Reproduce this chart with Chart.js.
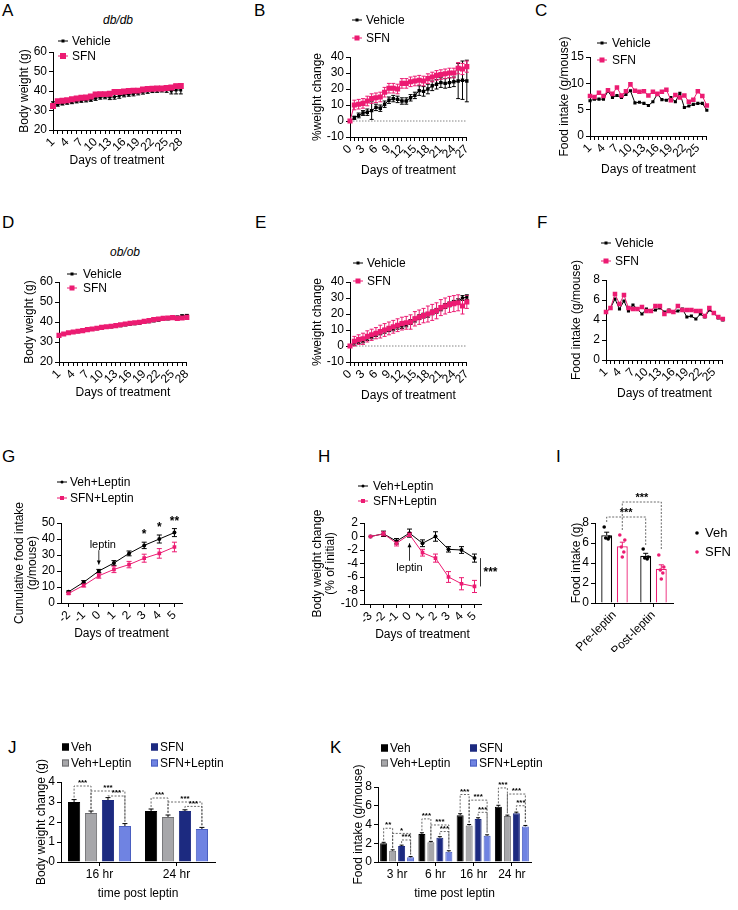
<!DOCTYPE html>
<html>
<head>
<meta charset="utf-8">
<script src="https://cdn.jsdelivr.net/npm/chart.js@4.4.1/dist/chart.umd.min.js"></script>
<style>
  body { margin: 0; background: #fff; }
  #fig { position: relative; width: 738px; height: 910px; overflow: hidden; font-family: "Liberation Sans", Arial, sans-serif; color: #000; }
  #fig canvas { position: absolute; }
  .let { position: absolute; font-size: 17px; line-height: 1; }
  .ttl { position: absolute; font-size: 12px; font-style: italic; line-height: 1; transform: translateX(-50%); }
</style>
</head>
<body>
<div id="fig">
  <div class="let" style="left:2px;top:2px">A</div>
  <div class="let" style="left:254px;top:2px">B</div>
  <div class="let" style="left:535px;top:2px">C</div>
  <div class="let" style="left:2px;top:214px">D</div>
  <div class="let" style="left:255px;top:214px">E</div>
  <div class="let" style="left:537px;top:214px">F</div>
  <div class="let" style="left:2px;top:448px">G</div>
  <div class="let" style="left:318px;top:448px">H</div>
  <div class="let" style="left:556px;top:448px">I</div>
  <div class="let" style="left:8px;top:739px">J</div>
  <div class="let" style="left:330px;top:739px">K</div>
  <div class="ttl" style="left:118px;top:14px">db/db</div>
  <div class="ttl" style="left:125px;top:246px">ob/ob</div>
</div>
<script>
// ---- data ----
// A: db/db body weight
const aDays = ['1','2','3','4','5','6','7','8','9','10','11','12','13','14','15','16','17','18','19','20','21','22','23','24','25','26','27','28'];
const aVeh = [33.5,33.0,33.6,34.0,34.3,34.7,35.0,35.3,35.6,36.2,36.8,37.0,36.8,37.0,37.5,38.0,38.3,38.5,39.0,39.4,39.8,40.2,40.3,40.5,40.5,40.0,40.5,40.5];
const aVehErr = [1.0,0.8,0.8,0.8,0.8,0.8,0.8,0.9,0.9,1.0,1.0,1.0,1.2,1.2,1.2,1.0,1.0,1.0,1.0,1.0,1.0,1.0,1.0,1.0,1.2,1.5,2.0,2.0];
const aSfn = [32.3,34.8,35.0,35.3,35.8,36.2,36.5,36.7,37.2,38.2,38.4,38.4,38.6,39.5,39.5,39.7,40.0,40.2,40.2,40.8,41.0,41.2,41.3,41.3,41.5,41.8,42.5,42.6];
const aSfnErr = [0.8,0.8,0.8,0.8,0.8,0.8,0.8,0.8,0.8,0.8,0.8,0.8,0.8,0.8,0.8,0.8,0.8,0.8,0.8,0.8,0.8,0.8,0.8,0.8,0.8,0.8,1.0,1.0];

// B: db/db % weight change
const bDays = ['0','1','2','3','4','5','6','7','8','9','10','11','12','13','14','15','16','17','18','19','20','21','22','23','24','25','26','27'];
const bVeh = [0,2,3.5,5,5.5,6.5,8.5,8,10.5,13,14,13.5,12.5,12.5,14.5,16,19,18.5,20,22,23,24,23.5,24,24.5,25,25.5,25];
const bVehErr = [0,1,1.5,1.5,2,5.5,2,2,2,2,2,2,2,2,2,2,3,3,3,3,3,3,3,3,3,11,12,13];
const bSfn = [0,10,10.5,11,12.5,14,14.5,15,18,20.5,20.5,20,23.5,23.5,24.5,25,25.5,25,26.5,27.5,28.5,29,29.5,30,30,33,32.5,34];
const bSfnErr = [0,3,3,3,3,3,3,3,3,3,3,3,3,3,3,3,3,3,3,3,3,3,3,3,3,3.5,3.5,3.5];

// C: db/db food intake
const cDays = ['1','2','3','4','5','6','7','8','9','10','11','12','13','14','15','16','17','18','19','20','21','22','23','24','25','26','27'];
const cVeh = [6.7,7.0,7.0,7.0,8.5,7.3,7.7,7.3,7.9,8.6,6.3,6.4,6.2,5.8,6.5,8.0,6.9,6.8,7.3,6.5,8.1,5.4,5.7,6.0,6.2,6.2,4.9];
const cSfn = [7.6,7.4,8.2,7.6,8.7,8.0,9.2,7.7,8.5,9.8,8.6,8.4,8.5,7.7,8.4,8.0,8.4,8.8,6.8,7.8,7.3,7.7,6.5,6.9,8.5,7.6,5.8];

// D: ob/ob body weight
const dDays = ['1','2','3','4','5','6','7','8','9','10','11','12','13','14','15','16','17','18','19','20','21','22','23','24','25','26','27','28'];
const dVeh = [33.3,34.0,34.5,34.8,35.2,35.5,36.0,36.3,36.7,37.0,37.3,37.6,37.8,38.2,38.6,39.0,39.2,39.5,39.8,40.2,40.6,41.0,41.3,41.6,41.8,42.4,43.0,43.2];
const dVehErr = [0.5,0.5,0.5,0.5,0.5,0.5,0.5,0.5,0.5,0.5,0.5,0.5,0.5,0.5,0.5,0.5,0.5,0.5,0.5,0.5,0.5,0.5,0.5,0.5,0.5,0.6,0.6,0.6];
const dSfn = [33.3,34.0,34.6,35.0,35.4,35.7,36.2,36.5,36.9,37.3,37.6,37.9,38.2,38.6,39.0,39.4,39.6,39.9,40.3,40.7,41.2,41.5,41.8,42.0,42.2,41.8,42.0,42.3];
const dSfnErr = [0.6,0.6,0.6,0.6,0.6,0.6,0.6,0.6,0.6,0.6,0.6,0.6,0.6,0.6,0.6,0.6,0.6,0.6,0.6,0.6,0.6,0.6,0.6,0.6,0.6,0.6,0.6,0.6];

// E: ob/ob % weight change
const eDays = ['0','1','2','3','4','5','6','7','8','9','10','11','12','13','14','15','16','17','18','19','20','21','22','23','24','25','26','27'];
const eVeh = [0,2,3,3.5,5,6,7.5,8.5,9.5,10.5,11,12,12.5,13.5,15,16.5,18,19,19.5,21,22,23.5,25,26,27,28,30,30.5];
const eVehErr = [0,1.5,1.5,1.5,1.5,1.5,1.5,1.5,1.5,1.5,1.5,1.5,1.5,1.5,1.5,1.5,1.5,1.5,1.5,1.5,1.5,1.5,1.5,1.5,1.5,1.5,1.5,1.5];
const eSfn = [0,3,4,4.5,6,7,8,9,10,11,12,13,14,14.5,15,17,18,19,20,21,22,24,25,26,26.5,27,25,27.5];
const eSfnErr = [0,3,3,3.5,3.5,3.5,3.5,4,4,4,4,4,4,4,4.5,4.5,4.5,4.5,5,5,5,5,5,5,5,5,5,4];

// F: ob/ob food intake
const fDays = ['1','2','3','4','5','6','7','8','9','10','11','12','13','14','15','16','17','18','19','20','21','22','23','24','25','26','27'];
const fVeh = [4.8,5.2,6.1,5.1,5.9,4.9,5.5,5.1,4.6,5.1,4.9,5.0,5.2,4.8,5.0,4.8,4.9,5.1,4.3,4.4,4.1,4.6,4.3,5.0,4.7,4.2,4.0];
const fSfn = [4.8,5.2,6.6,5.6,6.5,5.2,5.1,5.1,5.3,4.9,4.9,5.4,5.4,4.6,4.9,4.8,5.4,5.0,5.0,5.0,4.9,4.9,4.4,5.2,4.7,4.3,4.1];

// G: cumulative food intake with leptin
const gDays = ['-2','-1','0','1','2','3','4','5'];
const gVeh = [7,13,20,25,31,36,40,44];
const gVehErr = [0.5,1,1,1.5,1.5,2,2.5,2.5];
const gSfn = [6,11,17,21,24,28,31,35];
const gSfnErr = [0.5,1,1.5,2,2,2.5,3,3];
const gStars = ['', '', '', '', '', '*', '*', '**'];

// H: body weight change with leptin
const hDays = ['-3','-2','-1','0','1','2','3','4','5'];
const hVeh = [0,0.4,-0.7,0.5,-1.0,0,-1.9,-2.0,-3.2];
const hVehErr = [0,0.4,0.4,0.6,0.5,0.7,0.4,0.5,0.6];
const hSfn = [0,0.4,-1.0,0.3,-2.4,-3.2,-6.0,-7.0,-7.4];
const hSfnErr = [0,0.3,0.4,0.3,0.5,0.6,0.8,0.9,0.9];

// I: food intake pre / post leptin
const iCats = ['Pre-leptin', 'Post-leptin'];
const iVeh = [6.78, 4.72];
const iVehErr = [0.3, 0.25];
const iSfn = [5.68, 3.42];
const iSfnErr = [0.4, 0.4];
const iVehDots = [[7.6, 6.6, 6.5, 6.4], [5.4, 4.6, 4.5, 4.4]];
const iSfnDots = [[6.8, 6.3, 5.6, 5.1, 4.6], [4.8, 3.6, 3.3, 3.0, 2.4]];

// J: body weight change post leptin
const jCats = ['16 hr', '24 hr'];
const jVeh = [3.0, 2.55];
const jVehErr = [0.12, 0.1];
const jVehLep = [2.45, 2.25];
const jVehLepErr = [0.1, 0.1];
const jSfn = [3.1, 2.55];
const jSfnErr = [0.12, 0.06];
const jSfnLep = [1.8, 1.65];
const jSfnLepErr = [0.12, 0.08];

// K: food intake post leptin
const kCats = ['3 hr', '6 hr', '16 hr', '24 hr'];
const kVeh = [2.0, 3.0, 5.0, 5.9];
const kVehErr = [0.1, 0.12, 0.15, 0.15];
const kVehLep = [1.2, 2.1, 3.9, 4.9];
const kVehLepErr = [0.1, 0.1, 0.1, 0.1];
const kSfn = [1.7, 2.6, 4.6, 5.2];
const kSfnErr = [0.1, 0.1, 0.12, 0.12];
const kSfnLep = [0.5, 1.1, 2.8, 3.8];
const kSfnLepErr = [0.08, 0.1, 0.1, 0.1];

// ---- styling ----
const PINK = '#ec1b72', BLACK = '#000000', GRAY = '#a7a7aa', NAVY = '#1c2a80', LBLUE = '#6f83e2';
const FONT = '"Liberation Sans", Arial, sans-serif';

Chart.defaults.font.family = FONT;
Chart.defaults.font.size = 12;
Chart.defaults.color = '#000';
Chart.defaults.animation = false;
Chart.defaults.plugins.legend.display = false;
Chart.defaults.plugins.tooltip.enabled = false;

const AXLINE = { display: true, drawOnChartArea: false, drawTicks: true, tickLength: 4, color: '#000', lineWidth: 1 };

function xCat({ title, every = 0, rot = 0, offset = false }) {
  return {
    type: 'category', offset,
    grid: { ...AXLINE, offset: false },
    border: { color: '#000', width: 1 },
    ticks: {
      autoSkip: false, minRotation: rot, maxRotation: rot, padding: 1,
      callback: function (v, i) { return (every && i % every) ? '' : this.getLabelForValue(v); }
    },
    title: { display: !!title, text: title, padding: 0 }
  };
}

function yLin(min, max, step, title) {
  return {
    type: 'linear', min, max,
    grid: AXLINE,
    border: { color: '#000', width: 1 },
    ticks: { stepSize: step, padding: 2, autoSkip: false },
    title: { display: true, text: title, padding: 0, font: { lineHeight: Array.isArray(title) ? 1.1 : 1.2 } }
  };
}

function lineDs(label, data, err, color, r, order, style) {
  return {
    label, data, err, order,
    borderColor: color, backgroundColor: color, borderWidth: 1, tension: 0,
    pointStyle: style || 'rect', pointRadius: r, pointHoverRadius: r, pointBorderWidth: 0
  };
}

function barDs(label, data, err, color, edge) {
  return { label, data, err, backgroundColor: color, borderColor: edge, borderWidth: 1, borderSkipped: 'start' };
}

// error bars from the value scale
function drawErr(chart, cap, upOnly) {
  const ctx = chart.ctx, ys = chart.scales.y;
  chart.data.datasets.forEach((ds, di) => {
    if (!ds.err) return;
    const meta = chart.getDatasetMeta(di);
    ctx.save();
    ctx.strokeStyle = ds.errColor || ds.borderColor;
    ctx.lineWidth = 1;
    ctx.beginPath();
    meta.data.forEach((el, i) => {
      const e = ds.err[i];
      if (!e) return;
      const v = ds.data[i];
      const yt = ys.getPixelForValue(v + e);
      const yb = ys.getPixelForValue(upOnly ? v : v - e);
      ctx.moveTo(el.x, yt); ctx.lineTo(el.x, yb);
      ctx.moveTo(el.x - cap, yt); ctx.lineTo(el.x + cap, yt);
      if (!upOnly) { ctx.moveTo(el.x - cap, yb); ctx.lineTo(el.x + cap, yb); }
    });
    ctx.stroke();
    ctx.restore();
  });
}

// legend entries at page coordinates
function drawLegend(chart, at, items) {
  const ctx = chart.ctx;
  items.forEach(it => {
    const ds = chart.data.datasets[it.ds];
    const [x, y] = at(it.x, it.y);
    const [tx] = at(it.tx, it.y);
    ctx.save();
    if (it.kind === 'line') {
      ctx.strokeStyle = ds.borderColor; ctx.fillStyle = ds.borderColor; ctx.lineWidth = 1;
      ctx.beginPath(); ctx.moveTo(x, y); ctx.lineTo(x + 10, y); ctx.stroke();
      const s = it.size;
      if (it.round) { ctx.beginPath(); ctx.arc(x + 5, y, s / 2, 0, Math.PI * 2); ctx.fill(); }
      else ctx.fillRect(x + 5 - s / 2, y - s / 2, s, s);
    } else if (it.kind === 'dot') {
      ctx.fillStyle = ds.borderColor;
      ctx.beginPath(); ctx.arc(x, y, 1.8, 0, Math.PI * 2); ctx.fill();
    } else {
      ctx.fillStyle = ds.backgroundColor; ctx.fillRect(x, y - 3.5, 7, 7);
      ctx.strokeStyle = ds.borderColor; ctx.lineWidth = 1; ctx.strokeRect(x + 0.5, y - 3, 6, 6);
    }
    ctx.fillStyle = '#000';
    ctx.font = (it.fs || 12) + 'px ' + FONT;
    ctx.textAlign = 'left'; ctx.textBaseline = 'middle';
    ctx.fillText(it.text, tx, y + 0.5);
    ctx.restore();
  });
}

function stars(ctx, text, x, y, fs) {
  ctx.save();
  ctx.fillStyle = '#000';
  ctx.font = 'bold ' + fs + 'px ' + FONT;
  ctx.textAlign = 'center'; ctx.textBaseline = 'alphabetic';
  ctx.fillText(text, x, y + fs * 0.35);
  ctx.restore();
}

// dashed significance bracket between two bars; legs end at given values
function bracket(chart, a, b, h, label, fs, endA, endB) {
  const ctx = chart.ctx, ys = chart.scales.y;
  const ea = chart.getDatasetMeta(a[0]).data[a[1]], eb = chart.getDatasetMeta(b[0]).data[b[1]];
  const top = (p) => { const d = chart.data.datasets[p[0]]; return d.data[p[1]] + (d.err ? d.err[p[1]] : 0); };
  const ya = ys.getPixelForValue(endA !== undefined ? endA : top(a)) - 2;
  const yb = ys.getPixelForValue(endB !== undefined ? endB : top(b)) - 2;
  const yh = ys.getPixelForValue(h);
  ctx.save();
  ctx.setLineDash([2, 1.5]);
  ctx.strokeStyle = '#444'; ctx.lineWidth = 0.8;
  ctx.beginPath();
  ctx.moveTo(ea.x, ya); ctx.lineTo(ea.x, yh); ctx.lineTo(eb.x, yh); ctx.lineTo(eb.x, yb);
  ctx.stroke();
  ctx.restore();
  stars(ctx, label, (ea.x + eb.x) / 2, yh - fs * 0.45, fs);
}

function arrow(ctx, x, y1, y2) {
  ctx.save();
  ctx.strokeStyle = '#000'; ctx.fillStyle = '#000'; ctx.lineWidth = 0.8;
  ctx.beginPath(); ctx.moveTo(x, y1); ctx.lineTo(x, y2); ctx.stroke();
  const d = y2 > y1 ? -1 : 1;
  ctx.beginPath(); ctx.moveTo(x, y2); ctx.lineTo(x - 2, y2 + d * 4); ctx.lineTo(x + 2, y2 + d * 4); ctx.closePath(); ctx.fill();
  ctx.restore();
}

function zeroLine(chart) {
  const ctx = chart.ctx, a = chart.chartArea, y = chart.scales.y.getPixelForValue(0);
  ctx.save();
  ctx.setLineDash([1.5, 1.5]); ctx.strokeStyle = '#666'; ctx.lineWidth = 0.8;
  ctx.beginPath(); ctx.moveTo(a.left, y); ctx.lineTo(a.right, y); ctx.stroke();
  ctx.restore();
}

function text(ctx, s, x, y, align) {
  ctx.save();
  ctx.fillStyle = '#000'; ctx.font = '11px ' + FONT;
  ctx.textAlign = align || 'center'; ctx.textBaseline = 'middle';
  ctx.fillText(s, x, y);
  ctx.restore();
}

// p = plot area [l,t,r,b], c = canvas [l,t,r,b], page coordinates
function panel(id, p, c, config, before, after) {
  const cv = document.createElement('canvas');
  const w = c[2] - c[0], h = c[3] - c[1];
  cv.id = id; cv.width = w; cv.height = h;
  Object.assign(cv.style, { left: c[0] + 'px', top: c[1] + 'px', width: w + 'px', height: h + 'px' });
  document.getElementById('fig').appendChild(cv);
  const o = config.options;
  o.responsive = false; o.maintainAspectRatio = false;
  o.layout = { padding: { left: 0, top: p[1] - c[1], right: c[2] - p[2], bottom: 0 } };
  o.scales.x.afterFit = s => { s.height = c[3] - p[3]; };
  o.scales.y.afterFit = s => { s.width = p[0] - c[0]; };
  const at = (x, y) => [x - c[0], y - c[1]];
  config.plugins = [{
    id: id + 'Extra',
    beforeDatasetsDraw(ch) { if (before) before(ch, at); },
    afterDraw(ch) { if (after) after(ch, at); }
  }];
  return new Chart(cv, config);
}

const lineLegend = (x, tx, y1, y2, n1, n2, s1, s2, round) => [
  { ds: 0, kind: 'line', x, tx, y: y1, text: n1, size: s1, round },
  { ds: 1, kind: 'line', x, tx, y: y2, text: n2, size: s2 }
];

// A
panel('chartA', [53, 52, 183, 130], [17, 30, 192, 168], {
  type: 'line',
  data: { labels: aDays, datasets: [lineDs('Vehicle', aVeh, aVehErr, BLACK, 2, 2), lineDs('SFN', aSfn, aSfnErr, PINK, 4.2, 1)] },
  options: { scales: { x: xCat({ title: 'Days of treatment', every: 3, rot: 45 }), y: yLin(20, 60, 10, 'Body weight (g)') } }
}, ch => drawErr(ch, 2), (ch, at) => drawLegend(ch, at, lineLegend(58, 72, 41, 56, 'Vehicle', 'SFN', 3, 6)));

// B
panel('chartB', [350, 57, 468, 137], [310, 8, 478, 178], {
  type: 'line',
  data: { labels: bDays, datasets: [lineDs('Vehicle', bVeh, bVehErr, BLACK, 2.4, 2), lineDs('SFN', bSfn, bSfnErr, PINK, 3.6, 1)] },
  options: { scales: { x: xCat({ title: 'Days of treatment', every: 3, rot: 45 }), y: yLin(-10, 40, 10, '%weight change') } }
}, ch => { zeroLine(ch); drawErr(ch, 2); }, (ch, at) => drawLegend(ch, at, lineLegend(352, 366, 20, 38, 'Vehicle', 'SFN', 3, 5)));

// C
panel('chartC', [590, 57, 709, 136], [557, 32, 718, 177], {
  type: 'line',
  data: { labels: cDays, datasets: [lineDs('Vehicle', cVeh, null, BLACK, 2.2, 2), lineDs('SFN', cSfn, null, PINK, 3.2, 1)] },
  options: { scales: { x: xCat({ title: 'Days of treatment', every: 3, rot: 45 }), y: yLin(0, 15, 5, 'Food intake (g/mouse)') } }
}, null, (ch, at) => drawLegend(ch, at, lineLegend(597, 612, 43, 60, 'Vehicle', 'SFN', 3, 5)));

// D
panel('chartD', [59, 282, 190, 362], [22, 262, 198, 400], {
  type: 'line',
  data: { labels: dDays, datasets: [lineDs('Vehicle', dVeh, dVehErr, BLACK, 2.2, 2), lineDs('SFN', dSfn, dSfnErr, PINK, 3.6, 1)] },
  options: { scales: { x: xCat({ title: 'Days of treatment', every: 3, rot: 45 }), y: yLin(20, 60, 10, 'Body weight (g)') } }
}, ch => drawErr(ch, 2), (ch, at) => drawLegend(ch, at, lineLegend(67, 83, 274, 288, 'Vehicle', 'SFN', 3, 5)));

// E
panel('chartE', [350, 282, 469, 362], [310, 252, 478, 403], {
  type: 'line',
  data: { labels: eDays, datasets: [lineDs('Vehicle', eVeh, eVehErr, BLACK, 2.2, 2), lineDs('SFN', eSfn, eSfnErr, PINK, 3.6, 1)] },
  options: { scales: { x: xCat({ title: 'Days of treatment', every: 3, rot: 45 }), y: yLin(-10, 40, 10, '%weight change') } }
}, ch => { zeroLine(ch); drawErr(ch, 2); }, (ch, at) => drawLegend(ch, at, lineLegend(353, 367, 263, 281, 'Vehicle', 'SFN', 3, 5)));

// F
panel('chartF', [606, 280, 725, 360], [569, 232, 734, 401], {
  type: 'line',
  data: { labels: fDays, datasets: [lineDs('Vehicle', fVeh, null, BLACK, 2.2, 2), lineDs('SFN', fSfn, null, PINK, 3.2, 1)] },
  options: { scales: { x: xCat({ title: 'Days of treatment', every: 3, rot: 45 }), y: yLin(0, 8, 2, 'Food intake (g/mouse)') } }
}, null, (ch, at) => drawLegend(ch, at, lineLegend(601, 615, 243, 261, 'Vehicle', 'SFN', 3, 5)));

// G
panel('chartG', [61, 523, 182, 603], [13, 472, 200, 641], {
  type: 'line',
  data: { labels: gDays, datasets: [lineDs('Veh+Leptin', gVeh, gVehErr, BLACK, 2, 2, 'circle'), lineDs('SFN+Leptin', gSfn, gSfnErr, PINK, 2.6, 1)] },
  options: { scales: { x: xCat({ title: 'Days of treatment', rot: 45, offset: true }), y: yLin(0, 50, 10, ['Cumulative food intake', '(g/mouse)']) } }
}, ch => drawErr(ch, 2.5), (ch, at) => {
  drawLegend(ch, at, lineLegend(57, 70, 482, 498, 'Veh+Leptin', 'SFN+Leptin', 3, 4, true));
  const xs = ch.scales.x, ys = ch.scales.y, ctx = ch.ctx;
  const x0 = xs.getPixelForValue(gDays.indexOf('0'));
  text(ctx, 'leptin', x0 + 4, ys.getPixelForValue(36));
  arrow(ctx, x0, ys.getPixelForValue(33), ys.getPixelForValue(24));
  gStars.forEach((s, i) => {
    if (s) stars(ctx, s, xs.getPixelForValue(i), ys.getPixelForValue(gVeh[i] + gVehErr[i]) - 8, 12);
  });
});

// H
panel('chartH', [364, 523, 481, 604], [311, 476, 510, 642], {
  type: 'line',
  data: { labels: hDays, datasets: [lineDs('Veh+Leptin', hVeh, hVehErr, BLACK, 2, 2, 'circle'), lineDs('SFN+Leptin', hSfn, hSfnErr, PINK, 2.6, 1)] },
  options: { scales: { x: xCat({ title: 'Days of treatment', rot: 45, offset: true }), y: yLin(-10, 2, 2, ['Body weight change', '(% of initial)']) } }
}, ch => drawErr(ch, 2.5), (ch, at) => {
  drawLegend(ch, at, lineLegend(358, 373, 486, 501, 'Veh+Leptin', 'SFN+Leptin', 3, 4, true));
  const xs = ch.scales.x, ys = ch.scales.y, ctx = ch.ctx;
  const x0 = xs.getPixelForValue(hDays.indexOf('0'));
  arrow(ctx, x0, ys.getPixelForValue(-3.6), ys.getPixelForValue(-1.0));
  text(ctx, 'leptin', x0, ys.getPixelForValue(-4.6));
  const last = hDays.length - 1, xl = xs.getPixelForValue(last) + 6;
  ctx.save(); ctx.strokeStyle = '#000'; ctx.lineWidth = 0.8;
  ctx.beginPath(); ctx.moveTo(xl, ys.getPixelForValue(hVeh[last])); ctx.lineTo(xl, ys.getPixelForValue(hSfn[last])); ctx.stroke();
  ctx.restore();
  stars(ctx, '***', xl + 10, ys.getPixelForValue((hVeh[last] + hSfn[last]) / 2), 12);
});

// I
const JIT = [-2.5, 2.5, -1, 1.5, 0];
panel('chartI', [595, 523, 673, 603], [569, 486, 735, 652], {
  type: 'bar',
  data: { labels: iCats, datasets: [
    { label: 'Veh', data: iVeh, err: iVehErr, dots: iVehDots, backgroundColor: '#fff', borderColor: BLACK, borderWidth: 1.3 },
    { label: 'SFN', data: iSfn, err: iSfnErr, dots: iSfnDots, backgroundColor: '#fff', borderColor: PINK, borderWidth: 1.3 }
  ] },
  options: {
    datasets: { bar: { categoryPercentage: 0.8, barPercentage: 0.7 } },
    scales: { x: xCat({ rot: 45, offset: true }), y: yLin(0, 8, 2, 'Food intake (g)') }
  }
}, null, (ch, at) => {
  drawErr(ch, 2.5, true);
  const ctx = ch.ctx, ys = ch.scales.y;
  ch.data.datasets.forEach((ds, di) => {
    ch.getDatasetMeta(di).data.forEach((el, ci) => {
      ctx.save(); ctx.fillStyle = ds.borderColor;
      ds.dots[ci].forEach((v, k) => { ctx.beginPath(); ctx.arc(el.x + JIT[k], ys.getPixelForValue(v), 1.8, 0, Math.PI * 2); ctx.fill(); });
      ctx.restore();
    });
  });
  bracket(ch, [0, 0], [0, 1], 8.6, '***', 11, 7.9, 5.6);
  bracket(ch, [1, 0], [1, 1], 10.1, '***', 11, 7.1, 5.1);
  drawLegend(ch, at, [
    { ds: 0, kind: 'dot', x: 697, tx: 705, y: 533, text: 'Veh', fs: 13 },
    { ds: 1, kind: 'dot', x: 697, tx: 705, y: 552, text: 'SFN', fs: 13 }
  ]);
});

// J
const jSig = [[0, 0, 1, 3.8], [0, 1, 3, 3.55], [0, 2, 3, 3.3], [1, 0, 1, 3.2], [1, 1, 3, 3.0], [1, 2, 3, 2.78]];
panel('chartJ', [61, 782, 215, 862], [34, 736, 350, 901], {
  type: 'bar',
  data: { labels: jCats, datasets: [
    barDs('Veh', jVeh, jVehErr, BLACK, BLACK),
    barDs('Veh+Leptin', jVehLep, jVehLepErr, GRAY, '#6d6d70'),
    barDs('SFN', jSfn, jSfnErr, NAVY, NAVY),
    barDs('SFN+Leptin', jSfnLep, jSfnLepErr, LBLUE, '#4a5ec0')
  ] },
  options: {
    datasets: { bar: { categoryPercentage: 0.88, barPercentage: 0.72 } },
    scales: { x: xCat({ title: 'time post leptin', offset: true }), y: yLin(0, 4, 1, 'Body weight change (g)') }
  }
}, null, (ch, at) => {
  ch.data.datasets.forEach(d => { d.errColor = '#000'; });
  drawErr(ch, 2.5, true);
  jSig.forEach(s => bracket(ch, [s[1], s[0]], [s[2], s[0]], s[3], '***', 8));
  drawLegend(ch, at, [
    { ds: 0, kind: 'box', x: 62, tx: 71, y: 747, text: 'Veh' },
    { ds: 1, kind: 'box', x: 62, tx: 71, y: 763, text: 'Veh+Leptin' },
    { ds: 2, kind: 'box', x: 151, tx: 160, y: 747, text: 'SFN' },
    { ds: 3, kind: 'box', x: 151, tx: 160, y: 763, text: 'SFN+Leptin' }
  ]);
});

// K
const kSig = [
  [0, 0, 1, 3.6, '**'], [0, 1, 3, 3.05, '*'], [0, 2, 3, 2.35, '***'],
  [1, 0, 1, 4.6, '***'], [1, 1, 3, 3.95, '***'], [1, 2, 3, 3.25, '***'],
  [2, 0, 1, 7.2, '***'], [2, 1, 3, 6.6, '***'], [2, 2, 3, 5.3, '***'],
  [3, 0, 1, 7.9, '***'], [3, 1, 3, 7.25, '***'], [3, 2, 3, 6.0, '***']
];
panel('chartK', [378, 787, 531, 862], [351, 736, 600, 901], {
  type: 'bar',
  data: { labels: kCats, datasets: [
    barDs('Veh', kVeh, kVehErr, BLACK, BLACK),
    barDs('Veh+Leptin', kVehLep, kVehLepErr, GRAY, '#6d6d70'),
    barDs('SFN', kSfn, kSfnErr, NAVY, NAVY),
    barDs('SFN+Leptin', kSfnLep, kSfnLepErr, LBLUE, '#4a5ec0')
  ] },
  options: {
    datasets: { bar: { categoryPercentage: 0.94, barPercentage: 0.78 } },
    scales: { x: xCat({ title: 'time post leptin', offset: true }), y: yLin(0, 8, 2, 'Food intake (g/mouse)') }
  }
}, null, (ch, at) => {
  ch.data.datasets.forEach(d => { d.errColor = '#000'; });
  drawErr(ch, 2, true);
  kSig.forEach(s => bracket(ch, [s[1], s[0]], [s[2], s[0]], s[3], s[4], 8));
  drawLegend(ch, at, [
    { ds: 0, kind: 'box', x: 381, tx: 390, y: 748, text: 'Veh' },
    { ds: 1, kind: 'box', x: 381, tx: 390, y: 763, text: 'Veh+Leptin' },
    { ds: 2, kind: 'box', x: 470, tx: 479, y: 748, text: 'SFN' },
    { ds: 3, kind: 'box', x: 470, tx: 479, y: 763, text: 'SFN+Leptin' }
  ]);
});
</script>
</body>
</html>
